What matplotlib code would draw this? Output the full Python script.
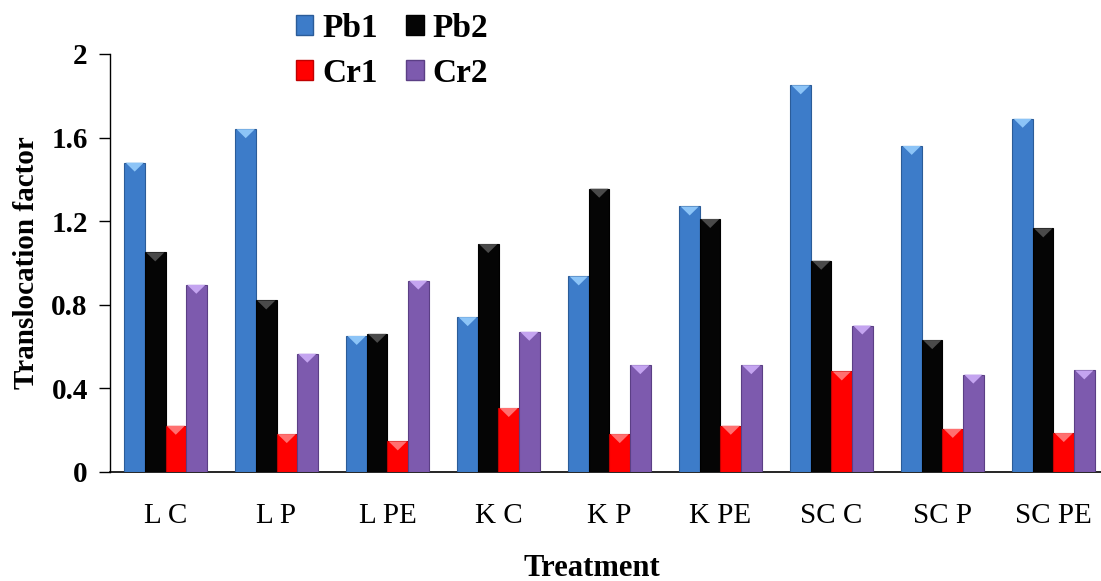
import matplotlib
matplotlib.use("Agg")
import matplotlib.pyplot as plt
import numpy as np
from matplotlib.patches import Polygon, Patch

# values
treatments = ["L C", "L P", "L PE", "K C", "K P", "K PE", "SC C", "SC P", "SC PE"]
pb1 = [1.48, 1.64, 0.65, 0.74, 0.935, 1.27, 1.85, 1.56, 1.69]
pb2 = [1.05, 0.82, 0.66, 1.09, 1.355, 1.21, 1.01, 0.63, 1.165]
cr1 = [0.22, 0.18, 0.145, 0.305, 0.18, 0.22, 0.48, 0.205, 0.185]
cr2 = [0.895, 0.565, 0.915, 0.67, 0.51, 0.51, 0.70, 0.465, 0.485]
series_names = ["Pb1", "Pb2", "Cr1", "Cr2"]
y_ticks = [0, 0.4, 0.8, 1.2, 1.6, 2]
y_tick_labels = ["0", "0.4", "0.8", "1.2", "1.6", "2"]

# face, edge, light bevel
colors = {
    "Pb1": ("#3D7CC9", "#2B5C99", "#8CC4F7"),
    "Pb2": ("#050505", "#000000", "#4A4A4A"),
    "Cr1": ("#FF0000", "#C00000", "#FF7070"),
    "Cr2": ("#7D5AAE", "#5B3F85", "#C4A4F0"),
}

plt.rcParams["font.family"] = ["Liberation Serif", "DejaVu Serif"]

fig = plt.figure(figsize=(11.01, 5.81), dpi=100)
ax = fig.add_axes([110 / 1101, (581 - 471.7) / 581, 999 / 1101, 417.7 / 581])

x = np.arange(len(treatments))
bw = 0.185
all_series = [pb1, pb2, cr1, cr2]
bevel_h = 9 / 208.85  # about 9 px in data units

for i, (name, vals) in enumerate(zip(series_names, all_series)):
    face, edge, light = colors[name]
    offs = x + (i - 1.5) * bw
    bars = ax.bar(offs, vals, width=bw, color=face, edgecolor=edge,
                  linewidth=0.8, zorder=3)
    for b in bars:
        x0 = b.get_x()
        x1 = x0 + b.get_width()
        top = b.get_height()
        tri = Polygon([[x0 + 0.01, top], [x1 - 0.01, top],
                       [(x0 + x1) / 2, top - bevel_h]],
                      closed=True, facecolor=light, edgecolor="none", zorder=4)
        ax.add_patch(tri)

ax.set_xlim(-0.5, len(treatments) - 0.5)
ax.set_ylim(0, 2)
ax.set_yticks(y_ticks)
ax.set_yticklabels(y_tick_labels, fontsize=21, fontweight="bold")
ax.set_xticks(x)
ax.set_xticklabels(treatments, fontsize=21)
ax.tick_params(axis="x", length=0, pad=22.5)
ax.tick_params(axis="y", length=8, width=1, direction="out", pad=8)
for s in ["top", "right"]:
    ax.spines[s].set_visible(False)
ax.spines["left"].set_linewidth(1)
ax.spines["bottom"].set_linewidth(1.2)

ax.set_ylabel("Translocation factor", fontsize=21, fontweight="bold", labelpad=8)
fig.text(592 / 1101, 1 - 568 / 581, "Treatment", fontsize=22, fontweight="bold",
         ha="center", va="center")

# legend filled row by row: Pb1 Pb2 / Cr1 Cr2
order = ["Pb1", "Cr1", "Pb2", "Cr2"]
handles = [Patch(facecolor=colors[n][0], edgecolor=colors[n][1]) for n in order]
leg = fig.legend(handles, order, ncol=2, frameon=False,
                 loc="upper left", bbox_to_anchor=(296 / 1101, 1 - 13 / 581),
                 borderpad=0, borderaxespad=0,
                 prop={"size": 24, "weight": "bold"},
                 handlelength=0.52, handleheight=0.55, handletextpad=0.27,
                 columnspacing=0.85, labelspacing=0.42)

fig.savefig("out.png", dpi=100)
